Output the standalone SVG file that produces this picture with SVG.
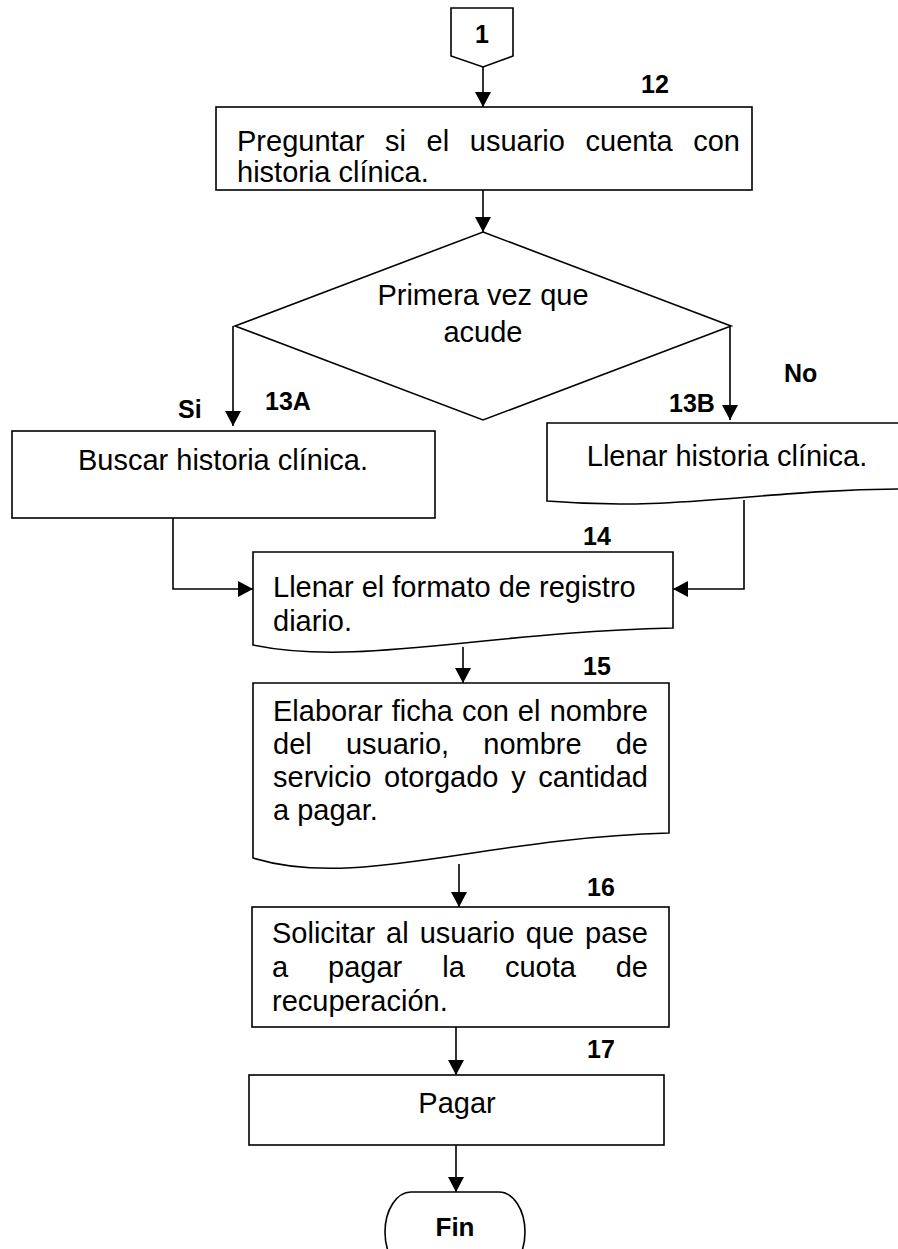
<svg xmlns="http://www.w3.org/2000/svg" width="898" height="1249" viewBox="0 0 898 1249">
<defs>
<marker id="ah" markerUnits="userSpaceOnUse" markerWidth="15" markerHeight="16" refX="15" refY="8" orient="auto"><path d="M0,0 L15,8 L0,16 Z" fill="#000"/></marker>
<style>
.s{fill:#fff;stroke:#000;stroke-width:1.6}
.t{font-family:"Liberation Sans",Arial,sans-serif;font-size:29px;fill:#000}
.m{text-anchor:middle}
.e{text-anchor:end}
.l{font-family:"Liberation Sans",Arial,sans-serif;font-size:25px;font-weight:bold;fill:#000}
.c{fill:none;stroke:#000;stroke-width:1.6}
.a{marker-end:url(#ah)}
</style>
</defs>
<rect width="898" height="1249" fill="#fff"/>

<g id="connectors">
<path class="c a" d="M483,67 V107"/>
<path class="c a" d="M483,190 V232"/>
<path class="c a" d="M233,326 V426"/>
<path class="c a" d="M730,326 V420"/>
<path class="c a" d="M173,518 V589 H253"/>
<path class="c a" d="M744,500 V589 H673"/>
<path class="c a" d="M463,647 V683"/>
<path class="c a" d="M459,864 V907"/>
<path class="c a" d="M456,1027 V1075"/>
<path class="c a" d="M456,1145 V1192"/>
</g>

<g id="labels">
<text class="l" x="641" y="93">12</text>
<text class="l" x="178" y="418">Si</text>
<text class="l" x="265" y="410">13A</text>
<text class="l" x="784" y="382">No</text>
<text class="l" x="669" y="412">13B</text>
<text class="l" x="583" y="545">14</text>
<text class="l" x="583" y="675">15</text>
<text class="l" x="587" y="896">16</text>
<text class="l" x="587" y="1058">17</text>
</g>

<g id="n1">
<polygon class="s" points="451,8 513,8 513,56 483,67 451,56"/>
<text class="l m" x="482" y="43">1</text>
</g>

<g id="n12">
<rect class="s" x="216" y="107" width="536" height="83"/>
<text class="t"><tspan x="237" y="151">Preguntar</tspan><tspan x="385" y="151">si</tspan><tspan x="426.5" y="151">el</tspan><tspan x="469.8" y="151">usuario</tspan><tspan x="585.6" y="151">cuenta</tspan><tspan class="e" x="740" y="151">con</tspan></text>
<text class="t" x="237" y="182">historia clínica.</text>
</g>

<g id="n13">
<polygon class="s" points="483,232 731,326 483,420 235,326"/>
<text class="t m" x="483" y="305">Primera vez que</text>
<text class="t m" x="483" y="342">acude</text>
</g>

<g id="n13a">
<rect class="s" x="12" y="431" width="423" height="87"/>
<text class="t m" x="223" y="470">Buscar historia clínica.</text>
</g>

<g id="n13b">
<path class="s" d="M547,423 H910 V489 C760,489 680,512 547,501 Z"/>
<text class="t m" x="727" y="466">Llenar historia clínica.</text>
</g>

<g id="n14">
<path class="s" d="M253,552 H673 V628 C484,632 358,667 253,645 Z"/>
<text class="t" x="273" y="597">Llenar el formato de registro</text>
<text class="t" x="273" y="631">diario.</text>
</g>

<g id="n15">
<path class="s" d="M253,683 H669 V833 C480,838 358,890 253,858 Z"/>
<text class="t"><tspan x="273" y="721">Elaborar</tspan><tspan x="391.7" y="721">ficha</tspan><tspan x="462" y="721">con</tspan><tspan x="517.8" y="721">el</tspan><tspan class="e" x="648" y="721">nombre</tspan></text>
<text class="t"><tspan x="273" y="754">del</tspan><tspan x="345.9" y="754">usuario,</tspan><tspan x="483.3" y="754">nombre</tspan><tspan class="e" x="648" y="754">de</tspan></text>
<text class="t"><tspan x="273" y="787">servicio</tspan><tspan x="384" y="787">otorgado</tspan><tspan x="511.2" y="787">y</tspan><tspan class="e" x="648" y="787">cantidad</tspan></text>
<text class="t" x="273" y="820">a pagar.</text>
</g>

<g id="n16">
<rect class="s" x="252" y="907" width="417" height="120"/>
<text class="t"><tspan x="272" y="943">Solicitar</tspan><tspan x="386.1" y="943">al</tspan><tspan x="419.7" y="943">usuario</tspan><tspan x="525.8" y="943">que</tspan><tspan class="e" x="648" y="943">pase</tspan></text>
<text class="t"><tspan x="272" y="977">a</tspan><tspan x="328.1" y="977">pagar</tspan><tspan x="442.3" y="977">la</tspan><tspan x="504.9" y="977">cuota</tspan><tspan class="e" x="648" y="977">de</tspan></text>
<text class="t" x="272" y="1011">recuperación.</text>
</g>

<g id="n17">
<rect class="s" x="249" y="1075" width="415" height="70"/>
<text class="t m" x="457" y="1113">Pagar</text>
</g>

<g id="fin">
<rect class="s" x="385" y="1192" width="140" height="80" rx="26" ry="40"/>
<text class="l m" x="455" y="1236" style="font-size:26px">Fin</text>
</g>
</svg>
